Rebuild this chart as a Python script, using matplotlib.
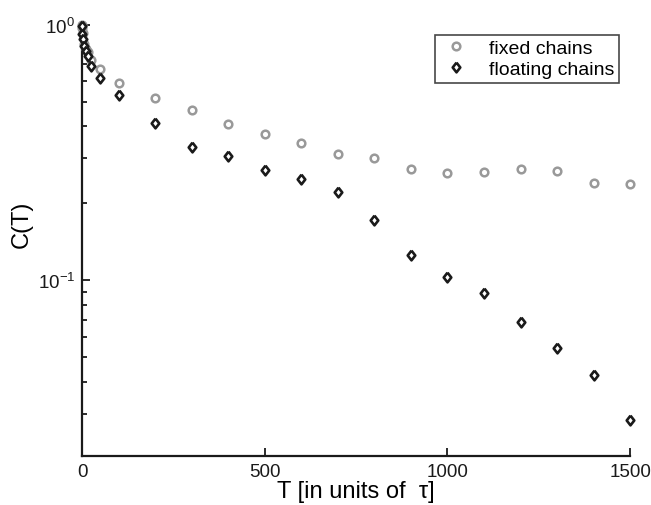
import matplotlib
matplotlib.use("Agg")
import matplotlib.pyplot as plt
from matplotlib.ticker import LogLocator, FixedLocator

plt.rcParams['font.family'] = ['Liberation Sans', 'DejaVu Sans']
plt.rcParams['mathtext.fontset'] = 'custom'
plt.rcParams['mathtext.rm'] = 'Liberation Sans'
plt.rcParams['mathtext.it'] = 'Liberation Sans:italic'

T_fixed = [0, 1, 2, 5, 10, 15, 25, 50, 100, 200, 300, 400, 500, 600, 700, 800,
           900, 1000, 1100, 1200, 1300, 1400, 1500]
C_fixed = [1.0, 0.97, 0.93, 0.84, 0.80, 0.78, 0.729, 0.670, 0.589, 0.516, 0.462,
           0.410, 0.3735, 0.3453, 0.3129, 0.3010, 0.2720, 0.2630, 0.2654, 0.2734,
           0.2671, 0.2403, 0.2388]

T_float = [0, 1, 2, 5, 10, 15, 25, 50, 100, 200, 300, 400, 500, 600, 700, 800,
           900, 1000, 1100, 1200, 1300, 1400, 1500]
C_float = [0.985, 0.918, 0.878, 0.826, 0.790, 0.755, 0.689, 0.620, 0.529, 0.413,
           0.333, 0.3056, 0.2695, 0.2485, 0.2222, 0.1723, 0.1258, 0.1029, 0.0896,
           0.0688, 0.0546, 0.0427, 0.0284]

labels = ["fixed chains", "floating chains"]
xticks = [0, 500, 1000, 1500]

diamond = [(0, 1), (0.78, 0), (0, -1), (-0.78, 0), (0, 1)]

fig = plt.figure(figsize=(6.51, 5.06), dpi=100)
ax = fig.add_axes([0.126, 0.0968, 0.842, 0.8528])

ax.plot(T_fixed, C_fixed, linestyle='none', marker='o', markersize=5.5,
        markeredgewidth=1.8, markeredgecolor='#999999', markerfacecolor='white',
        label=labels[0], clip_on=False, zorder=3)
ax.plot(T_float, C_float, linestyle='none', marker=diamond, markersize=7.0,
        markeredgewidth=1.9, markeredgecolor='#1a1a1a', markerfacecolor='white',
        label=labels[1], clip_on=False, zorder=4)

ax.set_yscale('log')
ax.set_xlim(0, 1500)
ax.set_ylim(0.0206, 1.0)

ax.xaxis.set_major_locator(FixedLocator(xticks))
ax.yaxis.set_major_locator(LogLocator(base=10, numticks=10))
ax.yaxis.set_minor_locator(LogLocator(base=10, subs=range(2, 10), numticks=10))

for s in ['top', 'right']:
    ax.spines[s].set_visible(False)
for s in ['left', 'bottom']:
    ax.spines[s].set_linewidth(1.6)
    ax.spines[s].set_color('#1a1a1a')

ax.tick_params(axis='both', which='both', direction='in', labelsize=13.5,
               colors='#1a1a1a', width=1.3)
ax.tick_params(axis='both', which='major', length=6, pad=5)
ax.tick_params(axis='y', which='minor', length=3.5)
ax.tick_params(axis='x', which='minor', length=0)

ax.set_xlabel("T [in units of  \u03c4]", fontsize=17, labelpad=0)
ax.set_ylabel("C(T)", fontsize=17)
ax.yaxis.set_label_coords(-0.089, 0.54)

leg = ax.legend(loc='upper right', bbox_to_anchor=(0.99, 0.99), fontsize=14,
                frameon=True, fancybox=False, edgecolor='#1a1a1a',
                borderpad=0.25, handletextpad=0.9, handlelength=1.6,
                labelspacing=0.15, borderaxespad=0.3)
leg.get_frame().set_linewidth(1.2)

fig.savefig("out.png", dpi=100)
